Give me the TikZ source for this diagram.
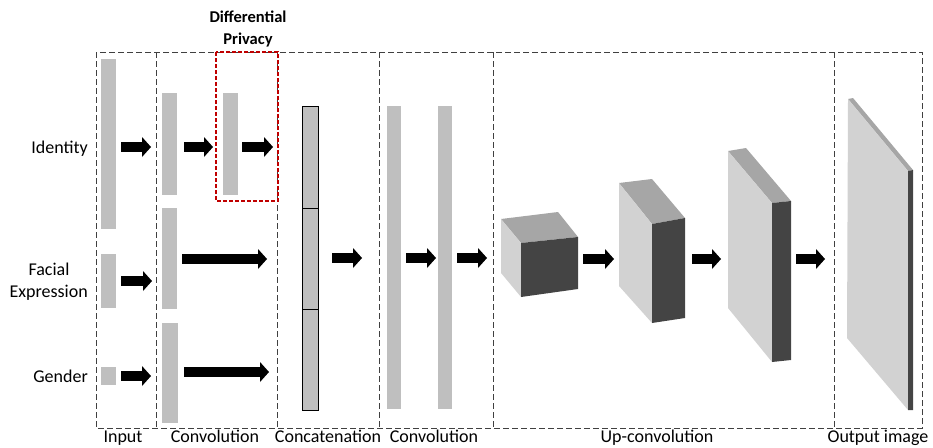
\documentclass[tikz,border=0pt]{standalone}
\usepackage{fontspec}
\setmainfont{Carlito}
\usetikzlibrary{arrows.meta}
\definecolor{barg}{HTML}{BFBFBF}
\definecolor{dashg}{HTML}{404040}
\definecolor{dpred}{HTML}{C00000}
\definecolor{ftop}{HTML}{A6A6A6}
\definecolor{fside}{HTML}{D2D2D2}
\definecolor{ffront}{HTML}{444444}
\tikzset{
  bar/.style={fill=barg, draw=none, inner sep=0pt, minimum width=15, outer sep=0pt},
  catbar/.style={fill=barg, draw=black, line width=1pt, inner sep=0pt, minimum width=16, outer sep=0pt},
  section/.style={draw=dashg, line width=1pt, dash pattern=on 6pt off 3pt},
  dpbox/.style={draw=dpred, line width=2pt, dash pattern=on 4pt off 2pt},
  barrow/.style={line width=10pt, -{Triangle[length=9pt,width=20pt,line width=0pt]}, black},
  sidelbl/.style={font=\fontsize{18}{22}\selectfont, anchor=base east, inner sep=0pt},
  botlbl/.style={font=\fontsize{18}{22}\selectfont, anchor=base, inner sep=0pt},
  dplbl/.style={font=\fontsize{16.5}{23}\selectfont\bfseries, inner sep=0pt, anchor=base}
}
\begin{document}
\begin{tikzpicture}[x=1pt,y=-1pt]
\useasboundingbox (0,0) rectangle (933,447);
% section boxes
\draw[section] (96,52) rectangle (922,428);
\foreach \sx in {156.5,277,379,493,834} { \draw[section] (\sx,52) -- (\sx,428); }
\draw[dpbox] (216,52) rectangle (278,201);
% input bars
\node[bar, minimum height=170] (inid) at (108.5,144) {};
\node[bar, minimum height=54] (infe) at (108.5,281) {};
\node[bar, minimum height=18] (inge) at (108.5,376) {};
% convolution bars
\node[bar, minimum height=102] (cid) at (169.5,144) {};
\node[bar, minimum height=101] (cfe) at (169.5,258.5) {};
\node[bar, minimum height=100, minimum width=16] (cge) at (170,373) {};
\node[bar, minimum height=102] (dp) at (230.5,144) {};
% concatenation
\node[catbar, minimum height=102] (cat1) at (310,157) {};
\node[catbar, minimum height=101] (cat2) at (310,258.5) {};
\node[catbar, minimum height=101] (cat3) at (310,359.5) {};
% convolution 2
\node[bar, minimum height=303, minimum width=14] (cv1) at (394,257.5) {};
\node[bar, minimum height=303, minimum width=14] (cv2) at (445,257.5) {};
% cube 1
\fill[ftop] (501,219) -- (558,212) -- (578,237) -- (521,243) -- cycle;
\fill[fside] (501,219) -- (521,243) -- (521,297) -- (501,273) -- cycle;
\fill[ffront] (521,243) -- (578,237) -- (578,289) -- (521,297) -- cycle;
% cube 2
\fill[ftop] (619,183) -- (652,179) -- (685,218) -- (652,224) -- cycle;
\fill[fside] (619,183) -- (652,224) -- (652,323) -- (619,286) -- cycle;
\fill[ffront] (652,224) -- (685,218) -- (685,318) -- (652,323) -- cycle;
% cube 3
\fill[ftop] (728,151) -- (746,148) -- (791,201) -- (772,203) -- cycle;
\fill[fside] (728,151) -- (772,203) -- (772,362) -- (728,308) -- cycle;
\fill[ffront] (772,203) -- (791,201) -- (791,360) -- (772,362) -- cycle;
% output image
\fill[ftop] (848,99) -- (853,98) -- (913,170) -- (908,171) -- cycle;
\fill[fside] (848,99) -- (908,171) -- (908,410) -- (847,338) -- cycle;
\fill[ffront] (908,171) -- (913,170) -- (913,410) -- (908,410) -- cycle;
% arrow coordinates
\coordinate (a1s) at (121,147); \coordinate (a1e) at (151,147);
\coordinate (a2s) at (121,281); \coordinate (a2e) at (152,281);
\coordinate (a3s) at (121,376); \coordinate (a3e) at (151,376);
\coordinate (a4s) at (184,147); \coordinate (a4e) at (213,147);
\coordinate (a5s) at (242,147); \coordinate (a5e) at (273,147);
\coordinate (a6s) at (182,259); \coordinate (a6e) at (267,259);
\coordinate (a7s) at (184,372); \coordinate (a7e) at (269,372);
\coordinate (a8s) at (332,258); \coordinate (a8e) at (362,258);
\coordinate (a9s) at (406,258); \coordinate (a9e) at (436,258);
\coordinate (a10s) at (457,258); \coordinate (a10e) at (487,258);
\coordinate (a11s) at (583,259); \coordinate (a11e) at (614,259);
\coordinate (a12s) at (692,259); \coordinate (a12e) at (721,259);
\coordinate (a13s) at (796,259); \coordinate (a13e) at (825,259);
\foreach \i in {1,...,13} { \draw[barrow] (a\i s) -- (a\i e); }
% side labels
\node[sidelbl] (lid) at (88,153) {Identity};
\node[sidelbl, anchor=base] (lfe1) at (49,275) {Facial};
\node[sidelbl] (lfe2) at (88,297) {Expression};
\node[sidelbl] (lge) at (88,382) {Gender};
% dp label
\node[dplbl] (ldp) at (248,22) {Differential};
\node[dplbl] (ldp2) at (248,44) {Privacy};
% bottom labels
\node[botlbl] (b1) at (123,442) {Input};
\node[botlbl] (b2) at (215,442) {Convolution};
\node[botlbl] (b3) at (328,442) {Concatenation};
\node[botlbl] (b4) at (434,442) {Convolution};
\node[botlbl] (b5) at (657,442) {Up-convolution};
\node[botlbl] (b6) at (878,442) {Output image};
\end{tikzpicture}
\end{document}
